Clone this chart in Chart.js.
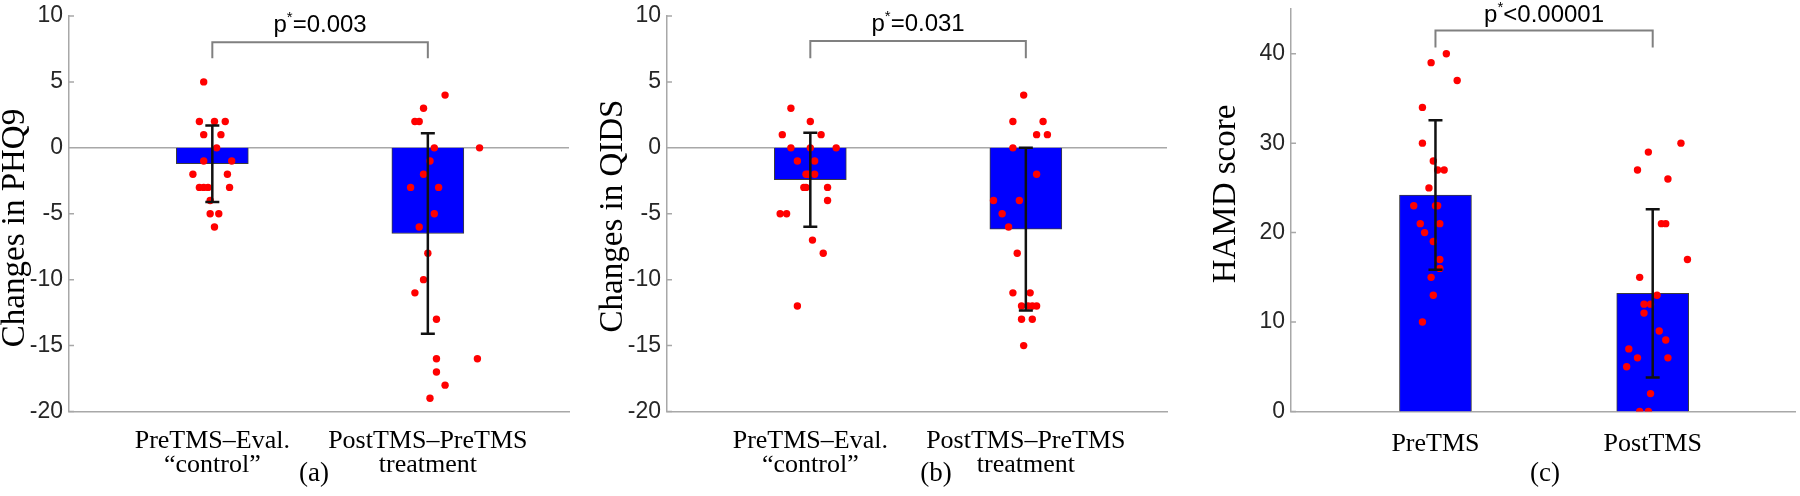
<!DOCTYPE html>
<html>
<head>
<meta charset="utf-8">
<script src="https://cdn.jsdelivr.net/npm/chart.js@4/dist/chart.umd.min.js"></script>
<style>
  html, body { margin: 0; padding: 0; background: #fff; }
  body { width: 1800px; height: 496px; position: relative; overflow: hidden; }
  .panel { position: absolute; top: 0; height: 496px; }
</style>
</head>
<body>
<div class="panel" style="left:0;width:580px"><canvas id="chartA"></canvas></div>
<div class="panel" style="left:580px;width:595px"><canvas id="chartB"></canvas></div>
<div class="panel" style="left:1175px;width:625px"><canvas id="chartC"></canvas></div>
<script>
// (a) changes in PHQ9
const phqLabels = [['PreTMS–Eval.', '“control”'], ['PostTMS–PreTMS', 'treatment']];
const phqMean = [-1.2, -6.5];
const phqSd = [2.9, 7.6];
const phqCtrlX = [0.96, 0.94, 1.01, 1.06, 0.96, 1.04, 1.02, 0.96, 1.09, 0.91, 1.07, 0.94, 0.96, 0.98, 1.08, 0.99, 0.99, 1.03, 1.01];
const phqCtrlY = [5, 2, 2, 2, 1, 1, 0, -1, -1, -2, -2, -3, -3, -3, -3, -4, -5, -5, -6];
const phqTreatX = [2.08, 1.98, 1.94, 1.96, 2.03, 2.24, 2.01, 1.98, 1.92, 2.05, 2.03, 1.96, 2.00, 1.98, 1.94, 2.04, 2.04, 2.23, 2.04, 2.08, 2.01];
const phqTreatY = [4, 3, 2, 2, 0, 0, -1, -2, -3, -3, -5, -6, -8, -10, -11, -13, -16, -16, -17, -18, -19];
const phqTicks = [-20, -15, -10, -5, 0, 5, 10];
const phqP = '0.003';

// (b) changes in QIDS
const qidsLabels = [['PreTMS–Eval.', '“control”'], ['PostTMS–PreTMS', 'treatment']];
const qidsMean = [-2.42, -6.17];
const qidsSd = [3.56, 6.17];
const qidsCtrlX = [0.91, 1.00, 0.87, 1.05, 0.91, 1.00, 1.12, 0.94, 1.02, 0.98, 0.99, 1.02, 0.97, 0.98, 1.08, 1.08, 0.86, 0.89, 1.01, 1.06, 0.94];
const qidsCtrlY = [3, 2, 1, 1, 0, 0, 0, -1, -1, -2, -2, -2, -3, -3, -3, -4, -5, -5, -7, -8, -12];
const qidsTreatX = [1.99, 1.94, 2.08, 2.05, 2.10, 1.94, 2.05, 1.85, 1.97, 1.89, 1.92, 1.96, 1.94, 2.02, 1.98, 2.01, 2.03, 2.05, 1.98, 2.03, 1.99];
const qidsTreatY = [4, 2, 2, 1, 1, 0, -2, -4, -4, -5, -6, -8, -11, -11, -12, -12, -12, -12, -13, -13, -15];
const qidsTicks = [-20, -15, -10, -5, 0, 5, 10];
const qidsP = '0.031';

// (c) HAMD score
const hamdLabels = ['PreTMS', 'PostTMS'];
const hamdMean = [24.2, 13.2];
const hamdSd = [8.35, 9.4];
const hamdPreX = [1.05, 0.98, 1.10, 0.94, 0.94, 0.99, 1.01, 1.04, 0.97, 0.90, 1.00, 1.01, 0.93, 1.02, 0.95, 0.99, 1.02, 1.02, 0.98, 0.99, 0.94];
const hamdPreY = [40, 39, 37, 34, 30, 28, 27, 27, 25, 23, 23, 23, 21, 21, 20, 19, 17, 16, 15, 13, 10];
const hamdPostX = [2.13, 1.98, 1.93, 2.07, 2.04, 2.06, 2.16, 1.94, 2.02, 1.96, 1.99, 1.96, 2.03, 2.06, 1.89, 1.93, 2.07, 1.88, 1.99, 1.94, 1.98];
const hamdPostY = [30, 29, 27, 26, 21, 21, 17, 15, 13, 12, 12, 11, 9, 8, 7, 6, 6, 5, 2, 0, 0];
const hamdTicks = [0, 10, 20, 30, 40];
const hamdP = '<0.00001';

const AXIS = '#a8a8a8';
const SANS = '"Liberation Sans", Arial, sans-serif';
const SERIF = '"Liberation Serif", "Times New Roman", serif';

function pts(xs, ys) {
  return xs.map((x, i) => ({ x: x, y: ys[i] }));
}

function makePanel(id, p) {
  const overlay = {
    id: 'overlay',
    beforeDatasetsDraw(chart) {
      const { ctx, chartArea: a, scales: { y } } = chart;
      ctx.save();
      ctx.strokeStyle = AXIS;
      ctx.lineWidth = 1.5;
      ctx.beginPath();
      if (p.zeroLine) {
        const y0 = y.getPixelForValue(0);
        ctx.moveTo(a.left, y0);
        ctx.lineTo(a.right, y0);
      }
      p.ticks.forEach(v => {
        const py = y.getPixelForValue(v);
        ctx.moveTo(a.left, py);
        ctx.lineTo(a.left + 5, py);
      });
      ctx.stroke();
      ctx.restore();
    },
    afterDatasetsDraw(chart) {
      const { ctx, scales: { x, y } } = chart;
      ctx.save();
      // error bars
      ctx.strokeStyle = '#111';
      ctx.lineWidth = 2.5;
      p.mean.forEach((m, i) => {
        const px = x.getPixelForValue(i + 1);
        const t = y.getPixelForValue(m + p.sd[i]);
        const b = y.getPixelForValue(m - p.sd[i]);
        ctx.beginPath();
        ctx.moveTo(px, t); ctx.lineTo(px, b);
        ctx.moveTo(px - 7, t); ctx.lineTo(px + 7, t);
        ctx.moveTo(px - 7, b); ctx.lineTo(px + 7, b);
        ctx.stroke();
      });
      // significance bracket
      const xl = x.getPixelForValue(1), xr = x.getPixelForValue(2);
      const yh = y.getPixelForValue(p.bracket[0]), yt = y.getPixelForValue(p.bracket[1]);
      ctx.strokeStyle = '#808080';
      ctx.lineWidth = 2;
      ctx.beginPath();
      ctx.moveTo(xl, yt); ctx.lineTo(xl, yh); ctx.lineTo(xr, yh); ctx.lineTo(xr, yt);
      ctx.stroke();
      // p value text with superscript star
      ctx.fillStyle = '#000';
      ctx.textBaseline = 'alphabetic';
      ctx.textAlign = 'left';
      const big = '24px ' + SANS, small = '15px ' + SANS;
      ctx.font = big;
      const w1 = ctx.measureText('p').width, w3 = ctx.measureText(p.pText).width;
      ctx.font = small;
      const w2 = ctx.measureText('*').width;
      let tx = (xl + xr) / 2 - (w1 + w2 + w3) / 2;
      const ty = yh - p.pGap;
      ctx.font = big; ctx.fillText('p', tx, ty); tx += w1;
      ctx.font = small; ctx.fillText('*', tx, ty - 10); tx += w2;
      ctx.font = big; ctx.fillText(p.pText, tx, ty);
      ctx.restore();
    },
    afterDraw(chart) {
      const { ctx } = chart;
      ctx.save();
      ctx.fillStyle = '#000';
      ctx.font = '33px ' + SERIF;
      ctx.textAlign = 'center';
      ctx.textBaseline = 'alphabetic';
      ctx.translate(p.titleX, p.titleY);
      ctx.rotate(-Math.PI / 2);
      ctx.fillText(p.title, 0, 0);
      ctx.restore();
      ctx.save();
      ctx.fillStyle = '#000';
      ctx.font = '27px ' + SERIF;
      ctx.textAlign = 'center';
      ctx.textBaseline = 'middle';
      ctx.fillText(p.letter, p.letterX, 474);
      ctx.restore();
    }
  };

  return new Chart(document.getElementById(id), {
    type: 'bar',
    data: {
      datasets: [
        {
          type: 'bar',
          data: p.mean.map((m, i) => ({ x: i + 1, y: m })),
          backgroundColor: '#0000ff',
          borderColor: '#3c3c3c',
          borderWidth: 1,
          barThickness: 72,
          order: 2
        },
        {
          type: 'scatter',
          data: pts(p.gx[0], p.gy[0]).concat(pts(p.gx[1], p.gy[1])),
          backgroundColor: '#ff0000',
          borderWidth: 0,
          pointRadius: 3.7,
          order: 1
        }
      ]
    },
    options: {
      responsive: true,
      maintainAspectRatio: false,
      animation: false,
      events: [],
      layout: { padding: { top: p.padTop, right: p.padRight, left: 0, bottom: 0 } },
      plugins: { legend: { display: false }, tooltip: { enabled: false } },
      scales: {
        x: {
          type: 'linear',
          offset: false,
          min: 0.335,
          max: 2.655,
          grid: { display: false, drawTicks: false, offset: false },
          border: { display: true, color: AXIS, width: 1.5 },
          afterBuildTicks: s => { s.ticks = [{ value: 1 }, { value: 2 }]; },
          afterFit: s => { s.height = 496 - 411.5; s.paddingLeft = 0; s.paddingRight = 0; },
          ticks: {
            autoSkip: false,
            maxRotation: 0,
            padding: p.labelPad,
            color: '#000',
            font: { family: SERIF, size: 26, lineHeight: 0.92 },
            callback: v => p.labels[v - 1]
          }
        },
        y: {
          min: p.yMin,
          max: p.yMax,
          grid: { display: false, drawTicks: false },
          border: { display: true, color: AXIS, width: 1.5 },
          afterBuildTicks: s => { s.ticks = p.ticks.map(v => ({ value: v })); },
          afterFit: s => { s.width = p.axisW; s.paddingTop = 0; s.paddingBottom = 0; },
          ticks: {
            padding: 6,
            color: '#262626',
            font: { family: SANS, size: 23 }
          }
        }
      }
    },
    plugins: [overlay]
  });
}

makePanel('chartA', {
  mean: phqMean, sd: phqSd, gx: [phqCtrlX, phqTreatX], gy: [phqCtrlY, phqTreatY],
  labels: phqLabels, ticks: phqTicks, yMin: -20, yMax: 10, zeroLine: true,
  axisW: 69, padTop: 16, padRight: 11, labelPad: 18,
  bracket: [8, 6.8], pText: '=' + phqP, pGap: 10,
  title: 'Changes in PHQ9', titleX: 24, titleY: 228, letter: '(a)', letterX: 314
});

makePanel('chartB', {
  mean: qidsMean, sd: qidsSd, gx: [qidsCtrlX, qidsTreatX], gy: [qidsCtrlY, qidsTreatY],
  labels: qidsLabels, ticks: qidsTicks, yMin: -20, yMax: 10, zeroLine: true,
  axisW: 87, padTop: 16, padRight: 8, labelPad: 18,
  bracket: [8.1, 6.8], pText: '=' + qidsP, pGap: 10,
  title: 'Changes in QIDS', titleX: 42, titleY: 216, letter: '(b)', letterX: 356
});

makePanel('chartC', {
  mean: hamdMean, sd: hamdSd, gx: [hamdPreX, hamdPostX], gy: [hamdPreY, hamdPostY],
  labels: hamdLabels, ticks: hamdTicks, yMin: 0, yMax: 45, zeroLine: false,
  axisW: 116, padTop: 9, padRight: 5, labelPad: 21,
  bracket: [42.6, 40.7], pText: hamdP, pGap: 8,
  title: 'HAMD score', titleX: 60, titleY: 194, letter: '(c)', letterX: 370
});
</script>
</body>
</html>
